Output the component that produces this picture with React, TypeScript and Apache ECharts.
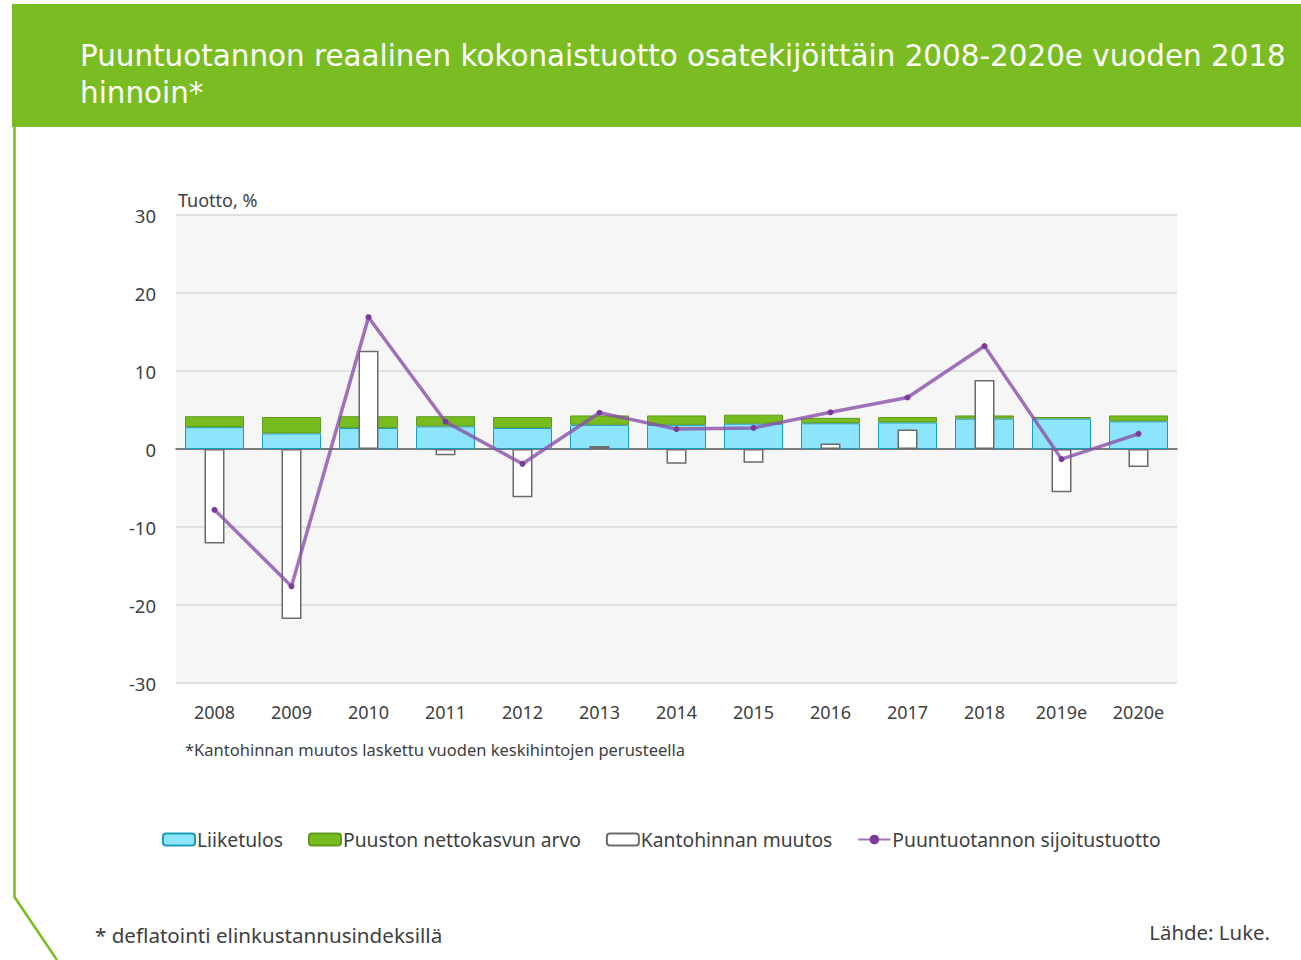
import React, { useEffect, useRef } from "react";
import * as echarts from "echarts";

const years = ["2008", "2009", "2010", "2011", "2012", "2013", "2014", "2015", "2016", "2017", "2018", "2019e", "2020e"];
const liiketulos = [2.8, 2.0, 2.7, 2.9, 2.7, 3.1, 3.1, 3.25, 3.3, 3.4, 3.9, 3.9, 3.55];
const nettokasvu = [1.4, 2.1, 1.5, 1.3, 1.4, 1.2, 1.2, 1.15, 0.7, 0.7, 0.4, 0.2, 0.75];
const kantohinta = [-12.1, -21.8, 12.6, -0.8, -6.2, 0.4, -1.9, -1.75, 0.7, 2.5, 8.85, -5.55, -2.3];
const sijoitustuotto = [-7.8, -17.6, 16.9, 3.5, -1.9, 4.65, 2.55, 2.7, 4.7, 6.6, 13.2, -1.3, 1.95];
const yTicks = { min: -30, max: 30, interval: 10 };
const titleLines = ["Puuntuotannon reaalinen kokonaistuotto osatekijöittäin 2008-2020e vuoden 2018", "hinnoin*"];

const FONT = "'Noto Sans', 'Open Sans', sans-serif";
const TITLE_FONT = "29.4px 'DejaVu Sans', 'Open Sans', sans-serif";
const GREEN = "#7abd22";

export default function App() {
  const ref = useRef<HTMLDivElement>(null);
  useEffect(() => {
    if (!ref.current) return;
    const chart = echarts.init(ref.current, undefined, { renderer: "svg" });
    chart.setOption({
      animation: false,
      backgroundColor: "#ffffff",
      textStyle: { fontFamily: FONT },
      grid: {
        left: 176,
        right: 124,
        top: 215,
        bottom: 277,
        show: true,
        backgroundColor: "#f6f6f6",
        borderWidth: 0,
      },
      legend: {
        left: 157,
        top: 825,
        itemWidth: 32,
        itemHeight: 12,
        itemGap: 25,
        textStyle: { fontFamily: FONT, fontSize: 19.3, color: "#404040", padding: [0, 0, 0, -3] },
        data: [
          { name: "Liiketulos" },
          { name: "Puuston nettokasvun arvo" },
          { name: "Kantohinnan muutos" },
          { name: "Puuntuotannon sijoitustuotto" },
        ],
      },
      xAxis: [
        {
          type: "category",
          data: years,
          axisLine: { show: false, onZero: false },
          axisTick: { show: false },
          axisLabel: { fontFamily: FONT, fontSize: 18, color: "#404040", margin: 20 },
        },
        {
          type: "category",
          data: years,
          position: "bottom",
          axisLine: { show: true, onZero: true, lineStyle: { color: "#595959", width: 1.5 } },
          axisTick: { show: false },
          axisLabel: { show: false },
        },
      ],
      yAxis: {
        type: "value",
        min: yTicks.min,
        max: yTicks.max,
        interval: yTicks.interval,
        name: "Tuotto, %",
        nameLocation: "end",
        nameGap: 6,
        nameTextStyle: { fontFamily: FONT, fontSize: 18, color: "#404040", align: "left", padding: [0, 0, 0, 2] },
        axisLine: { show: false },
        axisTick: { show: false },
        axisLabel: { fontFamily: FONT, fontSize: 18.5, color: "#404040", margin: 20 },
        splitLine: { lineStyle: { color: "#d9d9d9", width: 1.5 } },
      },
      series: [
        {
          name: "Liiketulos",
          type: "bar",
          stack: "total",
          xAxisIndex: 0,
          barWidth: 59,
          data: liiketulos,
          itemStyle: { color: "#8de5fb", borderColor: "#1b9cb8", borderWidth: 1 },
          z: 2,
        },
        {
          name: "Puuston nettokasvun arvo",
          type: "bar",
          stack: "total",
          xAxisIndex: 0,
          barWidth: 59,
          data: nettokasvu,
          itemStyle: { color: "#78bd20", borderColor: "#5e9a1c", borderWidth: 1 },
          z: 2,
        },
        {
          name: "Kantohinnan muutos",
          type: "bar",
          xAxisIndex: 1,
          barWidth: 20,
          data: kantohinta,
          itemStyle: { color: "#ffffff", borderColor: "#6b6b6b", borderWidth: 1.5 },
          z: 3,
        },
        {
          name: "Puuntuotannon sijoitustuotto",
          type: "line",
          xAxisIndex: 0,
          data: sijoitustuotto,
          symbol: "circle",
          symbolSize: 6,
          lineStyle: { color: "rgba(137, 80, 170, 0.8)", width: 3.5 },
          itemStyle: { color: "#7a3b9c" },
          z: 5,
        },
      ],
      graphic: [
        {
          type: "rect",
          shape: { x: 12, y: 4, width: 1289, height: 123 },
          style: { fill: GREEN },
          z: 10,
        },
        {
          type: "polyline",
          shape: { points: [[14.5, 127], [14.5, 897], [57, 960]] },
          style: { stroke: GREEN, lineWidth: 2.5, fill: "none" },
          z: 10,
        },
        {
          type: "text",
          x: 80,
          y: 41,
          style: { text: titleLines[0], fill: "#ffffff", font: TITLE_FONT },
          z: 11,
        },
        {
          type: "text",
          x: 80,
          y: 78.5,
          style: { text: titleLines[1], fill: "#ffffff", font: TITLE_FONT },
          z: 11,
        },
        {
          type: "text",
          x: 185,
          y: 741,
          style: {
            text: "*Kantohinnan muutos laskettu vuoden keskihintojen perusteella",
            fill: "#404040",
            font: `16.5px ${FONT}`,
          },
          z: 11,
        },
        {
          type: "text",
          x: 95,
          y: 924,
          style: {
            text: "* deflatointi elinkustannusindeksillä",
            fill: "#404040",
            font: `20.6px ${FONT}`,
          },
          z: 11,
        },
        {
          type: "text",
          x: 1270,
          y: 922,
          style: {
            text: "Lähde: Luke.",
            fill: "#404040",
            font: `20.4px ${FONT}`,
            align: "right",
          },
          z: 11,
        },
      ],
    });
    return () => chart.dispose();
  }, []);
  return (
    <div
      ref={ref}
      style={{ position: "fixed", left: 0, top: 0, width: 1301, height: 960 }}
    />
  );
}
